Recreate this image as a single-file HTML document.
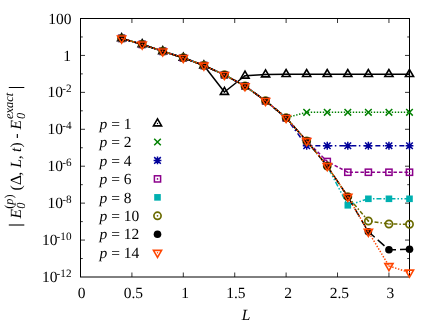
<!DOCTYPE html><html><head><meta charset="utf-8"><style>html,body{margin:0;padding:0;background:#fff;width:436px;height:323px;overflow:hidden}</style></head><body><svg width="436" height="323" viewBox="0 0 436 323" style="display:block;position:absolute;left:0;top:0">
<rect width="436" height="323" fill="#fff"/>
<path d="M80.5 36.96h2.3M409.5 36.96h-2.3M80.5 55.43h4.5M409.5 55.43h-4.5M80.5 73.89h2.3M409.5 73.89h-2.3M80.5 92.36h4.5M409.5 92.36h-4.5M80.5 110.82h2.3M409.5 110.82h-2.3M80.5 129.29h4.5M409.5 129.29h-4.5M80.5 147.75h2.3M409.5 147.75h-2.3M80.5 166.21h4.5M409.5 166.21h-4.5M80.5 184.68h2.3M409.5 184.68h-2.3M80.5 203.14h4.5M409.5 203.14h-4.5M80.5 221.61h2.3M409.5 221.61h-2.3M80.5 240.07h4.5M409.5 240.07h-4.5M80.5 258.54h2.3M409.5 258.54h-2.3M131.91 277.0v-4.5M131.91 18.5v4.5M183.31 277.0v-4.5M183.31 18.5v4.5M234.72 277.0v-4.5M234.72 18.5v4.5M286.12 277.0v-4.5M286.12 18.5v4.5M337.53 277.0v-4.5M337.53 18.5v4.5M388.94 277.0v-4.5M388.94 18.5v4.5" stroke="#000" stroke-width="0.8" fill="none"/>
<rect x="80.5" y="18.5" width="329.0" height="258.5" fill="none" stroke="#000" stroke-width="1"/>
<path d="M121.62 38.40L142.19 44.40L162.75 51.30L183.31 57.80L203.88 65.50L224.44 92.00L245.00 75.75L265.56 74.50L286.12 74.20L306.69 74.20L327.25 74.20L347.81 74.20L368.37 74.20L388.94 74.20L409.50 74.20" fill="none" stroke="#000000" stroke-width="1.5" stroke-linejoin="round"/>
<path d="M157.50 118.80L153.43 125.85L161.57 125.85Z" fill="none" stroke="#000000" stroke-width="1.6"/><circle cx="157.50" cy="123.50" r="0.7" fill="#000000"/>
<path d="M121.62 33.70L117.55 40.75L125.70 40.75Z" fill="none" stroke="#000000" stroke-width="1.6"/><circle cx="121.62" cy="38.40" r="0.7" fill="#000000"/>
<path d="M142.19 39.70L138.12 46.75L146.26 46.75Z" fill="none" stroke="#000000" stroke-width="1.6"/><circle cx="142.19" cy="44.40" r="0.7" fill="#000000"/>
<path d="M162.75 46.60L158.68 53.65L166.82 53.65Z" fill="none" stroke="#000000" stroke-width="1.6"/><circle cx="162.75" cy="51.30" r="0.7" fill="#000000"/>
<path d="M183.31 53.10L179.24 60.15L187.38 60.15Z" fill="none" stroke="#000000" stroke-width="1.6"/><circle cx="183.31" cy="57.80" r="0.7" fill="#000000"/>
<path d="M203.88 60.80L199.80 67.85L207.95 67.85Z" fill="none" stroke="#000000" stroke-width="1.6"/><circle cx="203.88" cy="65.50" r="0.7" fill="#000000"/>
<path d="M224.44 87.30L220.37 94.35L228.51 94.35Z" fill="none" stroke="#000000" stroke-width="1.6"/><circle cx="224.44" cy="92.00" r="0.7" fill="#000000"/>
<path d="M245.00 71.05L240.93 78.10L249.07 78.10Z" fill="none" stroke="#000000" stroke-width="1.6"/><circle cx="245.00" cy="75.75" r="0.7" fill="#000000"/>
<path d="M265.56 69.80L261.49 76.85L269.63 76.85Z" fill="none" stroke="#000000" stroke-width="1.6"/><circle cx="265.56" cy="74.50" r="0.7" fill="#000000"/>
<path d="M286.12 69.50L282.05 76.55L290.20 76.55Z" fill="none" stroke="#000000" stroke-width="1.6"/><circle cx="286.12" cy="74.20" r="0.7" fill="#000000"/>
<path d="M306.69 69.50L302.62 76.55L310.76 76.55Z" fill="none" stroke="#000000" stroke-width="1.6"/><circle cx="306.69" cy="74.20" r="0.7" fill="#000000"/>
<path d="M327.25 69.50L323.18 76.55L331.32 76.55Z" fill="none" stroke="#000000" stroke-width="1.6"/><circle cx="327.25" cy="74.20" r="0.7" fill="#000000"/>
<path d="M347.81 69.50L343.74 76.55L351.88 76.55Z" fill="none" stroke="#000000" stroke-width="1.6"/><circle cx="347.81" cy="74.20" r="0.7" fill="#000000"/>
<path d="M368.37 69.50L364.30 76.55L372.45 76.55Z" fill="none" stroke="#000000" stroke-width="1.6"/><circle cx="368.37" cy="74.20" r="0.7" fill="#000000"/>
<path d="M388.94 69.50L384.87 76.55L393.01 76.55Z" fill="none" stroke="#000000" stroke-width="1.6"/><circle cx="388.94" cy="74.20" r="0.7" fill="#000000"/>
<path d="M409.50 69.50L405.43 76.55L413.57 76.55Z" fill="none" stroke="#000000" stroke-width="1.6"/><circle cx="409.50" cy="74.20" r="0.7" fill="#000000"/>
<path d="M121.62 38.40L142.19 44.40L162.75 51.30L183.31 57.80L203.88 65.50L224.44 74.80L245.00 86.05L265.56 100.80L286.12 117.80L306.69 112.30L327.25 112.30L347.81 112.30L368.37 112.30L388.94 112.30L409.50 112.30" fill="none" stroke="#008000" stroke-width="1.5" stroke-dasharray="1.4 1.6" stroke-linejoin="round"/>
<path d="M154.20 138.66L160.80 145.26M154.20 145.26L160.80 138.66" fill="none" stroke="#008000" stroke-width="1.5"/>
<path d="M118.33 35.10L124.92 41.70M118.33 41.70L124.92 35.10" fill="none" stroke="#008000" stroke-width="1.5"/>
<path d="M138.89 41.10L145.49 47.70M138.89 47.70L145.49 41.10" fill="none" stroke="#008000" stroke-width="1.5"/>
<path d="M159.45 48.00L166.05 54.60M159.45 54.60L166.05 48.00" fill="none" stroke="#008000" stroke-width="1.5"/>
<path d="M180.01 54.50L186.61 61.10M180.01 61.10L186.61 54.50" fill="none" stroke="#008000" stroke-width="1.5"/>
<path d="M200.57 62.20L207.18 68.80M200.57 68.80L207.18 62.20" fill="none" stroke="#008000" stroke-width="1.5"/>
<path d="M221.14 71.50L227.74 78.10M221.14 78.10L227.74 71.50" fill="none" stroke="#008000" stroke-width="1.5"/>
<path d="M241.70 82.75L248.30 89.35M241.70 89.35L248.30 82.75" fill="none" stroke="#008000" stroke-width="1.5"/>
<path d="M262.26 97.50L268.86 104.10M262.26 104.10L268.86 97.50" fill="none" stroke="#008000" stroke-width="1.5"/>
<path d="M282.82 114.50L289.43 121.10M282.82 121.10L289.43 114.50" fill="none" stroke="#008000" stroke-width="1.5"/>
<path d="M303.39 109.00L309.99 115.60M303.39 115.60L309.99 109.00" fill="none" stroke="#008000" stroke-width="1.5"/>
<path d="M323.95 109.00L330.55 115.60M323.95 115.60L330.55 109.00" fill="none" stroke="#008000" stroke-width="1.5"/>
<path d="M344.51 109.00L351.11 115.60M344.51 115.60L351.11 109.00" fill="none" stroke="#008000" stroke-width="1.5"/>
<path d="M365.07 109.00L371.67 115.60M365.07 115.60L371.67 109.00" fill="none" stroke="#008000" stroke-width="1.5"/>
<path d="M385.64 109.00L392.24 115.60M385.64 115.60L392.24 109.00" fill="none" stroke="#008000" stroke-width="1.5"/>
<path d="M406.20 109.00L412.80 115.60M406.20 115.60L412.80 109.00" fill="none" stroke="#008000" stroke-width="1.5"/>
<path d="M121.62 38.40L142.19 44.40L162.75 51.30L183.31 57.80L203.88 65.50L224.44 74.80L245.00 86.05L265.56 100.80L286.12 117.80L306.69 145.75L327.25 145.75L347.81 145.75L368.37 145.75L388.94 145.75L409.50 145.75" fill="none" stroke="#00009a" stroke-width="1.5" stroke-dasharray="5 2.5 1.5 3" stroke-linejoin="round"/>
<path d="M154.20 157.13L160.80 163.73M154.20 163.73L160.80 157.13M153.60 160.43L161.40 160.43M157.50 156.53L157.50 164.33" fill="none" stroke="#00009a" stroke-width="1.5"/>
<path d="M118.33 35.10L124.92 41.70M118.33 41.70L124.92 35.10M117.72 38.40L125.53 38.40M121.62 34.50L121.62 42.30" fill="none" stroke="#00009a" stroke-width="1.5"/>
<path d="M138.89 41.10L145.49 47.70M138.89 47.70L145.49 41.10M138.29 44.40L146.09 44.40M142.19 40.50L142.19 48.30" fill="none" stroke="#00009a" stroke-width="1.5"/>
<path d="M159.45 48.00L166.05 54.60M159.45 54.60L166.05 48.00M158.85 51.30L166.65 51.30M162.75 47.40L162.75 55.20" fill="none" stroke="#00009a" stroke-width="1.5"/>
<path d="M180.01 54.50L186.61 61.10M180.01 61.10L186.61 54.50M179.41 57.80L187.21 57.80M183.31 53.90L183.31 61.70" fill="none" stroke="#00009a" stroke-width="1.5"/>
<path d="M200.57 62.20L207.18 68.80M200.57 68.80L207.18 62.20M199.97 65.50L207.78 65.50M203.88 61.60L203.88 69.40" fill="none" stroke="#00009a" stroke-width="1.5"/>
<path d="M221.14 71.50L227.74 78.10M221.14 78.10L227.74 71.50M220.54 74.80L228.34 74.80M224.44 70.90L224.44 78.70" fill="none" stroke="#00009a" stroke-width="1.5"/>
<path d="M241.70 82.75L248.30 89.35M241.70 89.35L248.30 82.75M241.10 86.05L248.90 86.05M245.00 82.15L245.00 89.95" fill="none" stroke="#00009a" stroke-width="1.5"/>
<path d="M262.26 97.50L268.86 104.10M262.26 104.10L268.86 97.50M261.66 100.80L269.46 100.80M265.56 96.90L265.56 104.70" fill="none" stroke="#00009a" stroke-width="1.5"/>
<path d="M282.82 114.50L289.43 121.10M282.82 121.10L289.43 114.50M282.23 117.80L290.02 117.80M286.12 113.90L286.12 121.70" fill="none" stroke="#00009a" stroke-width="1.5"/>
<path d="M303.39 142.45L309.99 149.05M303.39 149.05L309.99 142.45M302.79 145.75L310.59 145.75M306.69 141.85L306.69 149.65" fill="none" stroke="#00009a" stroke-width="1.5"/>
<path d="M323.95 142.45L330.55 149.05M323.95 149.05L330.55 142.45M323.35 145.75L331.15 145.75M327.25 141.85L327.25 149.65" fill="none" stroke="#00009a" stroke-width="1.5"/>
<path d="M344.51 142.45L351.11 149.05M344.51 149.05L351.11 142.45M343.91 145.75L351.71 145.75M347.81 141.85L347.81 149.65" fill="none" stroke="#00009a" stroke-width="1.5"/>
<path d="M365.07 142.45L371.67 149.05M365.07 149.05L371.67 142.45M364.47 145.75L372.27 145.75M368.37 141.85L368.37 149.65" fill="none" stroke="#00009a" stroke-width="1.5"/>
<path d="M385.64 142.45L392.24 149.05M385.64 149.05L392.24 142.45M385.04 145.75L392.84 145.75M388.94 141.85L388.94 149.65" fill="none" stroke="#00009a" stroke-width="1.5"/>
<path d="M406.20 142.45L412.80 149.05M406.20 149.05L412.80 142.45M405.60 145.75L413.40 145.75M409.50 141.85L409.50 149.65" fill="none" stroke="#00009a" stroke-width="1.5"/>
<path d="M121.62 38.40L142.19 44.40L162.75 51.30L183.31 57.80L203.88 65.50L224.44 74.80L245.00 86.05L265.56 100.80L286.12 117.80L306.69 141.00L327.25 161.50L347.81 172.25L368.37 172.25L388.94 172.25L409.50 172.25" fill="none" stroke="#8b008b" stroke-width="1.5" stroke-dasharray="3.5 2" stroke-linejoin="round"/>
<rect x="154.40" y="175.79" width="6.2" height="6.2" fill="none" stroke="#8b008b" stroke-width="1.5"/><circle cx="157.50" cy="178.89" r="0.85" fill="#8b008b"/>
<rect x="118.53" y="35.30" width="6.2" height="6.2" fill="none" stroke="#8b008b" stroke-width="1.5"/><circle cx="121.62" cy="38.40" r="0.85" fill="#8b008b"/>
<rect x="139.09" y="41.30" width="6.2" height="6.2" fill="none" stroke="#8b008b" stroke-width="1.5"/><circle cx="142.19" cy="44.40" r="0.85" fill="#8b008b"/>
<rect x="159.65" y="48.20" width="6.2" height="6.2" fill="none" stroke="#8b008b" stroke-width="1.5"/><circle cx="162.75" cy="51.30" r="0.85" fill="#8b008b"/>
<rect x="180.21" y="54.70" width="6.2" height="6.2" fill="none" stroke="#8b008b" stroke-width="1.5"/><circle cx="183.31" cy="57.80" r="0.85" fill="#8b008b"/>
<rect x="200.78" y="62.40" width="6.2" height="6.2" fill="none" stroke="#8b008b" stroke-width="1.5"/><circle cx="203.88" cy="65.50" r="0.85" fill="#8b008b"/>
<rect x="221.34" y="71.70" width="6.2" height="6.2" fill="none" stroke="#8b008b" stroke-width="1.5"/><circle cx="224.44" cy="74.80" r="0.85" fill="#8b008b"/>
<rect x="241.90" y="82.95" width="6.2" height="6.2" fill="none" stroke="#8b008b" stroke-width="1.5"/><circle cx="245.00" cy="86.05" r="0.85" fill="#8b008b"/>
<rect x="262.46" y="97.70" width="6.2" height="6.2" fill="none" stroke="#8b008b" stroke-width="1.5"/><circle cx="265.56" cy="100.80" r="0.85" fill="#8b008b"/>
<rect x="283.02" y="114.70" width="6.2" height="6.2" fill="none" stroke="#8b008b" stroke-width="1.5"/><circle cx="286.12" cy="117.80" r="0.85" fill="#8b008b"/>
<rect x="303.59" y="137.90" width="6.2" height="6.2" fill="none" stroke="#8b008b" stroke-width="1.5"/><circle cx="306.69" cy="141.00" r="0.85" fill="#8b008b"/>
<rect x="324.15" y="158.40" width="6.2" height="6.2" fill="none" stroke="#8b008b" stroke-width="1.5"/><circle cx="327.25" cy="161.50" r="0.85" fill="#8b008b"/>
<rect x="344.71" y="169.15" width="6.2" height="6.2" fill="none" stroke="#8b008b" stroke-width="1.5"/><circle cx="347.81" cy="172.25" r="0.85" fill="#8b008b"/>
<rect x="365.27" y="169.15" width="6.2" height="6.2" fill="none" stroke="#8b008b" stroke-width="1.5"/><circle cx="368.37" cy="172.25" r="0.85" fill="#8b008b"/>
<rect x="385.84" y="169.15" width="6.2" height="6.2" fill="none" stroke="#8b008b" stroke-width="1.5"/><circle cx="388.94" cy="172.25" r="0.85" fill="#8b008b"/>
<rect x="406.40" y="169.15" width="6.2" height="6.2" fill="none" stroke="#8b008b" stroke-width="1.5"/><circle cx="409.50" cy="172.25" r="0.85" fill="#8b008b"/>
<path d="M121.62 38.40L142.19 44.40L162.75 51.30L183.31 57.80L203.88 65.50L224.44 74.80L245.00 86.05L265.56 100.80L286.12 117.80L306.69 141.00L327.25 166.00L347.81 205.30L368.37 198.80L388.94 198.80L409.50 198.80" fill="none" stroke="#00b0b0" stroke-width="1.5" stroke-dasharray="5 2 1.5 2 1.5 2" stroke-linejoin="round"/>
<rect x="154.20" y="194.06" width="6.6" height="6.6" fill="#00b0b0"/>
<rect x="118.33" y="35.10" width="6.6" height="6.6" fill="#00b0b0"/>
<rect x="138.89" y="41.10" width="6.6" height="6.6" fill="#00b0b0"/>
<rect x="159.45" y="48.00" width="6.6" height="6.6" fill="#00b0b0"/>
<rect x="180.01" y="54.50" width="6.6" height="6.6" fill="#00b0b0"/>
<rect x="200.57" y="62.20" width="6.6" height="6.6" fill="#00b0b0"/>
<rect x="221.14" y="71.50" width="6.6" height="6.6" fill="#00b0b0"/>
<rect x="241.70" y="82.75" width="6.6" height="6.6" fill="#00b0b0"/>
<rect x="262.26" y="97.50" width="6.6" height="6.6" fill="#00b0b0"/>
<rect x="282.82" y="114.50" width="6.6" height="6.6" fill="#00b0b0"/>
<rect x="303.39" y="137.70" width="6.6" height="6.6" fill="#00b0b0"/>
<rect x="323.95" y="162.70" width="6.6" height="6.6" fill="#00b0b0"/>
<rect x="344.51" y="202.00" width="6.6" height="6.6" fill="#00b0b0"/>
<rect x="365.07" y="195.50" width="6.6" height="6.6" fill="#00b0b0"/>
<rect x="385.64" y="195.50" width="6.6" height="6.6" fill="#00b0b0"/>
<rect x="406.20" y="195.50" width="6.6" height="6.6" fill="#00b0b0"/>
<path d="M121.62 38.40L142.19 44.40L162.75 51.30L183.31 57.80L203.88 65.50L224.44 74.80L245.00 86.05L265.56 100.80L286.12 117.80L306.69 141.00L327.25 166.00L347.81 196.70L368.37 221.00L388.94 224.00L409.50 224.25" fill="none" stroke="#6b6b00" stroke-width="1.5" stroke-dasharray="4 2 1.5 2" stroke-linejoin="round"/>
<circle cx="157.50" cy="215.82" r="3.6" fill="none" stroke="#6b6b00" stroke-width="1.7"/><circle cx="157.50" cy="215.82" r="0.85" fill="#6b6b00"/>
<circle cx="121.62" cy="38.40" r="3.6" fill="none" stroke="#6b6b00" stroke-width="1.7"/><circle cx="121.62" cy="38.40" r="0.85" fill="#6b6b00"/>
<circle cx="142.19" cy="44.40" r="3.6" fill="none" stroke="#6b6b00" stroke-width="1.7"/><circle cx="142.19" cy="44.40" r="0.85" fill="#6b6b00"/>
<circle cx="162.75" cy="51.30" r="3.6" fill="none" stroke="#6b6b00" stroke-width="1.7"/><circle cx="162.75" cy="51.30" r="0.85" fill="#6b6b00"/>
<circle cx="183.31" cy="57.80" r="3.6" fill="none" stroke="#6b6b00" stroke-width="1.7"/><circle cx="183.31" cy="57.80" r="0.85" fill="#6b6b00"/>
<circle cx="203.88" cy="65.50" r="3.6" fill="none" stroke="#6b6b00" stroke-width="1.7"/><circle cx="203.88" cy="65.50" r="0.85" fill="#6b6b00"/>
<circle cx="224.44" cy="74.80" r="3.6" fill="none" stroke="#6b6b00" stroke-width="1.7"/><circle cx="224.44" cy="74.80" r="0.85" fill="#6b6b00"/>
<circle cx="245.00" cy="86.05" r="3.6" fill="none" stroke="#6b6b00" stroke-width="1.7"/><circle cx="245.00" cy="86.05" r="0.85" fill="#6b6b00"/>
<circle cx="265.56" cy="100.80" r="3.6" fill="none" stroke="#6b6b00" stroke-width="1.7"/><circle cx="265.56" cy="100.80" r="0.85" fill="#6b6b00"/>
<circle cx="286.12" cy="117.80" r="3.6" fill="none" stroke="#6b6b00" stroke-width="1.7"/><circle cx="286.12" cy="117.80" r="0.85" fill="#6b6b00"/>
<circle cx="306.69" cy="141.00" r="3.6" fill="none" stroke="#6b6b00" stroke-width="1.7"/><circle cx="306.69" cy="141.00" r="0.85" fill="#6b6b00"/>
<circle cx="327.25" cy="166.00" r="3.6" fill="none" stroke="#6b6b00" stroke-width="1.7"/><circle cx="327.25" cy="166.00" r="0.85" fill="#6b6b00"/>
<circle cx="347.81" cy="196.70" r="3.6" fill="none" stroke="#6b6b00" stroke-width="1.7"/><circle cx="347.81" cy="196.70" r="0.85" fill="#6b6b00"/>
<circle cx="368.37" cy="221.00" r="3.6" fill="none" stroke="#6b6b00" stroke-width="1.7"/><circle cx="368.37" cy="221.00" r="0.85" fill="#6b6b00"/>
<circle cx="388.94" cy="224.00" r="3.6" fill="none" stroke="#6b6b00" stroke-width="1.7"/><circle cx="388.94" cy="224.00" r="0.85" fill="#6b6b00"/>
<circle cx="409.50" cy="224.25" r="3.6" fill="none" stroke="#6b6b00" stroke-width="1.7"/><circle cx="409.50" cy="224.25" r="0.85" fill="#6b6b00"/>
<path d="M121.62 38.40L142.19 44.40L162.75 51.30L183.31 57.80L203.88 65.50L224.44 74.80L245.00 86.05L265.56 100.80L286.12 117.80L306.69 141.00L327.25 166.00L347.81 196.70L368.37 231.70L388.94 249.80L409.50 249.30" fill="none" stroke="#000000" stroke-width="1.5" stroke-dasharray="9 4" stroke-linejoin="round"/>
<circle cx="157.50" cy="234.29" r="3.8" fill="#000000"/>
<circle cx="121.62" cy="38.40" r="3.8" fill="#000000"/>
<circle cx="142.19" cy="44.40" r="3.8" fill="#000000"/>
<circle cx="162.75" cy="51.30" r="3.8" fill="#000000"/>
<circle cx="183.31" cy="57.80" r="3.8" fill="#000000"/>
<circle cx="203.88" cy="65.50" r="3.8" fill="#000000"/>
<circle cx="224.44" cy="74.80" r="3.8" fill="#000000"/>
<circle cx="245.00" cy="86.05" r="3.8" fill="#000000"/>
<circle cx="265.56" cy="100.80" r="3.8" fill="#000000"/>
<circle cx="286.12" cy="117.80" r="3.8" fill="#000000"/>
<circle cx="306.69" cy="141.00" r="3.8" fill="#000000"/>
<circle cx="327.25" cy="166.00" r="3.8" fill="#000000"/>
<circle cx="347.81" cy="196.70" r="3.8" fill="#000000"/>
<circle cx="368.37" cy="231.70" r="3.8" fill="#000000"/>
<circle cx="388.94" cy="249.80" r="3.8" fill="#000000"/>
<circle cx="409.50" cy="249.30" r="3.8" fill="#000000"/>
<path d="M121.62 38.40L142.19 44.40L162.75 51.30L183.31 57.80L203.88 65.50L224.44 74.80L245.00 86.05L265.56 100.80L286.12 117.80L306.69 141.00L327.25 166.00L347.81 196.70L368.37 231.70L388.94 266.00L409.50 272.50" fill="none" stroke="#ff4500" stroke-width="1.5" stroke-dasharray="1.4 1.6" stroke-linejoin="round"/>
<path d="M157.50 257.45L153.43 250.40L161.57 250.40Z" fill="none" stroke="#ff4500" stroke-width="1.6"/><circle cx="157.50" cy="252.75" r="0.7" fill="#ff4500"/>
<path d="M121.62 43.10L117.55 36.05L125.70 36.05Z" fill="none" stroke="#ff4500" stroke-width="1.6"/><circle cx="121.62" cy="38.40" r="0.7" fill="#ff4500"/>
<path d="M142.19 49.10L138.12 42.05L146.26 42.05Z" fill="none" stroke="#ff4500" stroke-width="1.6"/><circle cx="142.19" cy="44.40" r="0.7" fill="#ff4500"/>
<path d="M162.75 56.00L158.68 48.95L166.82 48.95Z" fill="none" stroke="#ff4500" stroke-width="1.6"/><circle cx="162.75" cy="51.30" r="0.7" fill="#ff4500"/>
<path d="M183.31 62.50L179.24 55.45L187.38 55.45Z" fill="none" stroke="#ff4500" stroke-width="1.6"/><circle cx="183.31" cy="57.80" r="0.7" fill="#ff4500"/>
<path d="M203.88 70.20L199.80 63.15L207.95 63.15Z" fill="none" stroke="#ff4500" stroke-width="1.6"/><circle cx="203.88" cy="65.50" r="0.7" fill="#ff4500"/>
<path d="M224.44 79.50L220.37 72.45L228.51 72.45Z" fill="none" stroke="#ff4500" stroke-width="1.6"/><circle cx="224.44" cy="74.80" r="0.7" fill="#ff4500"/>
<path d="M245.00 90.75L240.93 83.70L249.07 83.70Z" fill="none" stroke="#ff4500" stroke-width="1.6"/><circle cx="245.00" cy="86.05" r="0.7" fill="#ff4500"/>
<path d="M265.56 105.50L261.49 98.45L269.63 98.45Z" fill="none" stroke="#ff4500" stroke-width="1.6"/><circle cx="265.56" cy="100.80" r="0.7" fill="#ff4500"/>
<path d="M286.12 122.50L282.05 115.45L290.20 115.45Z" fill="none" stroke="#ff4500" stroke-width="1.6"/><circle cx="286.12" cy="117.80" r="0.7" fill="#ff4500"/>
<path d="M306.69 145.70L302.62 138.65L310.76 138.65Z" fill="none" stroke="#ff4500" stroke-width="1.6"/><circle cx="306.69" cy="141.00" r="0.7" fill="#ff4500"/>
<path d="M327.25 170.70L323.18 163.65L331.32 163.65Z" fill="none" stroke="#ff4500" stroke-width="1.6"/><circle cx="327.25" cy="166.00" r="0.7" fill="#ff4500"/>
<path d="M347.81 201.40L343.74 194.35L351.88 194.35Z" fill="none" stroke="#ff4500" stroke-width="1.6"/><circle cx="347.81" cy="196.70" r="0.7" fill="#ff4500"/>
<path d="M368.37 236.40L364.30 229.35L372.45 229.35Z" fill="none" stroke="#ff4500" stroke-width="1.6"/><circle cx="368.37" cy="231.70" r="0.7" fill="#ff4500"/>
<path d="M388.94 270.70L384.87 263.65L393.01 263.65Z" fill="none" stroke="#ff4500" stroke-width="1.6"/><circle cx="388.94" cy="266.00" r="0.7" fill="#ff4500"/>
<path d="M409.50 277.20L405.43 270.15L413.57 270.15Z" fill="none" stroke="#ff4500" stroke-width="1.6"/><circle cx="409.50" cy="272.50" r="0.7" fill="#ff4500"/>
<g font-family="Liberation Serif, serif" font-size="15.5" style="text-rendering:geometricPrecision;filter:grayscale(1)" fill="#000">
<text x="99.5" y="128.70"><tspan font-style="italic">p</tspan> = 1</text>
<text x="99.5" y="147.16"><tspan font-style="italic">p</tspan> = 2</text>
<text x="99.5" y="165.63"><tspan font-style="italic">p</tspan> = 4</text>
<text x="99.5" y="184.09"><tspan font-style="italic">p</tspan> = 6</text>
<text x="99.5" y="202.56"><tspan font-style="italic">p</tspan> = 8</text>
<text x="99.5" y="221.02"><tspan font-style="italic">p</tspan> = 10</text>
<text x="99.5" y="239.49"><tspan font-style="italic">p</tspan> = 12</text>
<text x="99.5" y="257.95"><tspan font-style="italic">p</tspan> = 14</text>
<text x="81.50" y="297.7" text-anchor="middle">0</text>
<text x="133.41" y="297.7" text-anchor="middle">0.5</text>
<text x="185.11" y="297.7" text-anchor="middle">1</text>
<text x="235.82" y="297.7" text-anchor="middle">1.5</text>
<text x="288.23" y="297.7" text-anchor="middle">2</text>
<text x="339.43" y="297.7" text-anchor="middle">2.5</text>
<text x="390.44" y="297.7" text-anchor="middle">3</text>
<text x="71.5" y="23.60" text-anchor="end">100</text>
<text x="71.0" y="60.53" text-anchor="end">1</text>
<text x="71.5" y="97.46" text-anchor="end">10<tspan font-size="11.2" dy="-5.3" dx="-0.8">-2</tspan></text>
<text x="71.5" y="134.39" text-anchor="end">10<tspan font-size="11.2" dy="-5.3" dx="-0.8">-4</tspan></text>
<text x="71.5" y="171.31" text-anchor="end">10<tspan font-size="11.2" dy="-5.3" dx="-0.8">-6</tspan></text>
<text x="71.5" y="208.24" text-anchor="end">10<tspan font-size="11.2" dy="-5.3" dx="-0.8">-8</tspan></text>
<text x="71.5" y="245.17" text-anchor="end">10<tspan font-size="11.2" dy="-5.3" dx="-0.8">-10</tspan></text>
<text x="71.5" y="282.10" text-anchor="end">10<tspan font-size="11.2" dy="-5.3" dx="-0.8">-12</tspan></text>
<text x="246.0" y="320" text-anchor="middle" font-style="italic">L</text>
<g transform="translate(20.8,225) rotate(-90)">
<path d="M0 -12 V3.5" stroke="#000" stroke-width="1.1" fill="none"/>
<text x="6.6" y="0" font-size="15.5" font-style="italic">E</text>
<text x="16.3" y="4.2" font-size="12.4" font-style="italic">0</text>
<text x="16.2" y="-7.7" font-size="12.4">(<tspan font-style="italic">p</tspan>)</text>
<text x="34.4" y="0" font-size="15.5">(</text>
<text x="40.0" y="0" font-size="15.5">&#916;</text>
<text x="49.3" y="0" font-size="15.5">,</text>
<text x="57.2" y="0" font-size="15.5" font-style="italic">L</text>
<text x="65.8" y="0" font-size="15.5">,</text>
<text x="73.1" y="0" font-size="15.5" font-style="italic">t</text>
<text x="77.4" y="0" font-size="15.5">)</text>
<text x="86.5" y="0" font-size="15.5">-</text>
<text x="95.5" y="0" font-size="15.5" font-style="italic">E</text>
<text x="105.9" y="4.2" font-size="12.4" font-style="italic">0</text>
<text x="106.05" y="-7.7" font-size="12.4" font-style="italic">exact</text>
<path d="M137.5 -12 V3.5" stroke="#000" stroke-width="1" fill="none"/>
</g>
</g>
</svg></body></html>
